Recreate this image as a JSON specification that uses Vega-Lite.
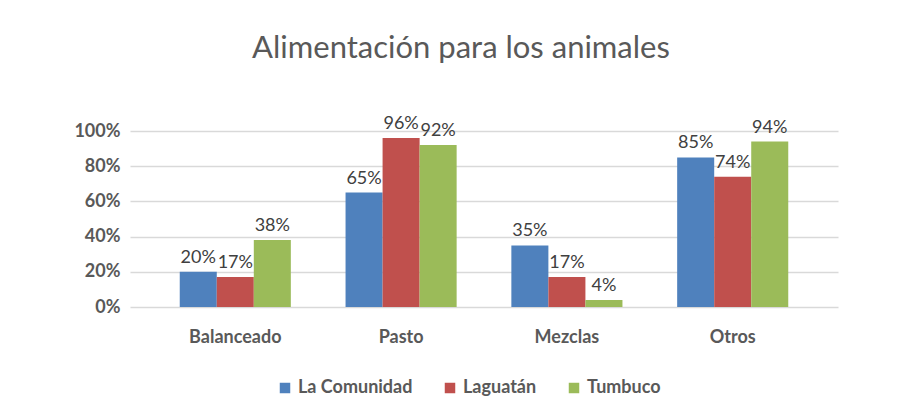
{
  "$schema": "https://vega.github.io/schema/vega-lite/v6.json",
  "width": 708,
  "height": 176,
  "autosize": {"type": "none"},
  "padding": {"left": 130, "top": 131, "right": 61, "bottom": 110},
  "background": "white",
  "config": {
    "font": "Lato",
    "view": {"stroke": null},
    "axis": {"labelFont": "Lato", "labelColor": "#595959"},
    "legend": {"labelFont": "Lato"}
  },
  "title": {
    "text": "Alimentación para los animales",
    "fontSize": 31,
    "fontWeight": "normal",
    "color": "#595959",
    "font": "Lato",
    "anchor": "middle",
    "offset": 50,
    "dx": -23
  },
  "data": {
    "values": [
      {"cat": "Balanceado", "serie": "La Comunidad", "v": 0.20},
      {"cat": "Balanceado", "serie": "Laguatán", "v": 0.17},
      {"cat": "Balanceado", "serie": "Tumbuco", "v": 0.38},
      {"cat": "Pasto", "serie": "La Comunidad", "v": 0.65},
      {"cat": "Pasto", "serie": "Laguatán", "v": 0.96},
      {"cat": "Pasto", "serie": "Tumbuco", "v": 0.92},
      {"cat": "Mezclas", "serie": "La Comunidad", "v": 0.35},
      {"cat": "Mezclas", "serie": "Laguatán", "v": 0.17},
      {"cat": "Mezclas", "serie": "Tumbuco", "v": 0.04},
      {"cat": "Otros", "serie": "La Comunidad", "v": 0.85},
      {"cat": "Otros", "serie": "Laguatán", "v": 0.74},
      {"cat": "Otros", "serie": "Tumbuco", "v": 0.94}
    ]
  },
  "encoding": {
    "x": {
      "field": "cat",
      "type": "nominal",
      "sort": ["Balanceado", "Pasto", "Mezclas", "Otros"],
      "scale": {"paddingInner": 0.33, "paddingOuter": 0.3},
      "axis": {
        "title": null,
        "labelAngle": 0,
        "labelFontSize": 18,
        "labelFontWeight": "bold",
        "labelPadding": 21,
        "ticks": false,
        "domain": false,
        "grid": false
      }
    },
    "xOffset": {"field": "serie", "type": "nominal", "sort": ["La Comunidad", "Laguatán", "Tumbuco"]},
    "y": {
      "field": "v",
      "type": "quantitative",
      "scale": {"domain": [0, 1]},
      "axis": {
        "title": null,
        "format": ".0%",
        "values": [0, 0.2, 0.4, 0.6, 0.8, 1],
        "labelFontSize": 18,
        "labelFontWeight": "bold",
        "labelPadding": 10,
        "ticks": false,
        "domain": false,
        "grid": true,
        "gridColor": "#d9d9d9",
        "gridWidth": 1.5
      }
    }
  },
  "layer": [
    {
      "mark": {"type": "bar"},
      "encoding": {
        "color": {
          "field": "serie",
          "type": "nominal",
          "sort": ["La Comunidad", "Laguatán", "Tumbuco"],
          "scale": {"domain": ["La Comunidad", "Laguatán", "Tumbuco"], "range": ["#4F81BD", "#C0504D", "#9BBB59"]},
          "legend": {
            "title": null,
            "orient": "none",
            "legendX": 146,
            "legendY": 248,
            "direction": "horizontal",
            "symbolType": "square",
            "symbolSize": 110,
            "symbolStrokeWidth": 0,
            "labelFontSize": 18,
            "labelFontWeight": "bold",
            "labelColor": "#595959",
            "columnPadding": 28
          }
        }
      }
    },
    {
      "mark": {"type": "text", "dy": -14, "fontSize": 18, "color": "#404040", "font": "Lato"},
      "encoding": {
        "text": {"field": "v", "type": "quantitative", "format": ".0%"}
      }
    }
  ]
}
